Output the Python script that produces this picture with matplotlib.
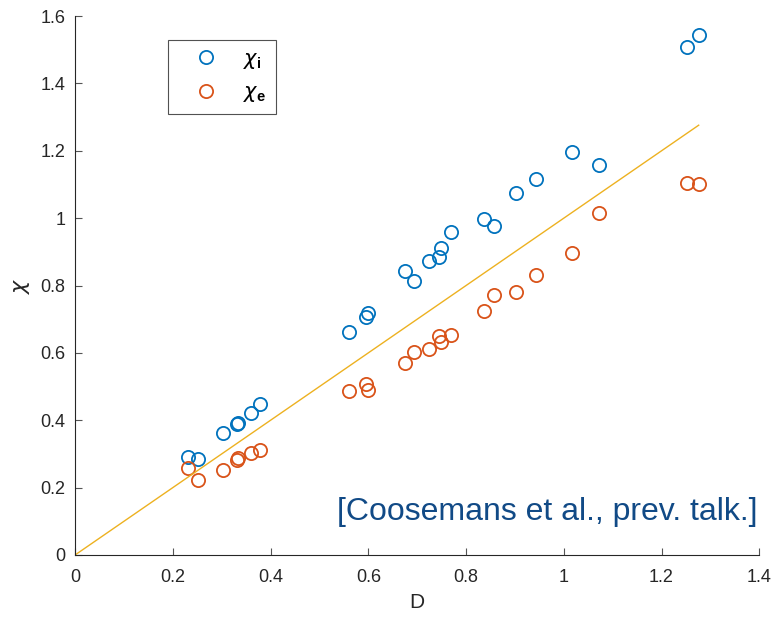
import matplotlib
matplotlib.use("Agg")
import matplotlib.pyplot as plt
import numpy as np

# D values and measured susceptibilities
D = [0.231, 0.252, 0.303, 0.332, 0.334, 0.360, 0.379,
     0.561, 0.596, 0.600, 0.675, 0.694, 0.724, 0.744, 0.748, 0.769,
     0.837, 0.858, 0.902, 0.944, 1.017, 1.073, 1.253, 1.276]
chi_i = [0.291, 0.285, 0.362, 0.390, 0.392, 0.421, 0.448,
         0.661, 0.706, 0.717, 0.844, 0.814, 0.873, 0.884, 0.912, 0.959,
         0.998, 0.977, 1.074, 1.116, 1.197, 1.158, 1.509, 1.543]
chi_e = [0.258, 0.223, 0.252, 0.282, 0.287, 0.303, 0.312,
         0.487, 0.508, 0.490, 0.569, 0.603, 0.611, 0.651, 0.633, 0.652,
         0.725, 0.773, 0.782, 0.831, 0.898, 1.014, 1.105, 1.101]

plt.rcParams['font.family'] = ['Liberation Sans', 'DejaVu Sans']
plt.rcParams['mathtext.fontset'] = 'custom'
plt.rcParams['mathtext.rm'] = 'Liberation Sans'
plt.rcParams['mathtext.bf'] = 'Liberation Sans:bold'

fig = plt.figure(figsize=(7.74, 6.18), dpi=100)
ax = fig.add_axes([0.097, 0.102, 0.884, 0.872])

ax.plot(D, chi_i, 'o', mfc='none', mec='#0072BD', ms=9.5, mew=1.3, label=r'$\chi_{\mathbf{i}}$')
ax.plot(D, chi_e, 'o', mfc='none', mec='#D95319', ms=9.5, mew=1.3, label=r'$\chi_{\mathbf{e}}$')
ax.plot([0, max(D)], [0, max(D)], color='#EDB120', lw=1.0)

ax.set_xlim(0, 1.4)
ax.set_ylim(0, 1.6)
ax.set_xticks(np.arange(0, 1.41, 0.2))
ax.set_xticklabels(['0', '0.2', '0.4', '0.6', '0.8', '1', '1.2', '1.4'])
ax.set_yticks(np.arange(0, 1.61, 0.2))
ax.set_yticklabels(['0', '0.2', '0.4', '0.6', '0.8', '1', '1.2', '1.4', '1.6'])
ax.tick_params(direction='in', length=5, width=0.8, color='#555555',
               labelcolor='#262626', labelsize=13)
ax.tick_params(axis='x', pad=10)
ax.tick_params(axis='y', pad=7)
for s in ['top', 'right']:
    ax.spines[s].set_visible(False)
for s in ['left', 'bottom']:
    ax.spines[s].set_color('#262626')
    ax.spines[s].set_linewidth(0.8)

ax.set_xlabel('D', fontsize=15, color='#262626', labelpad=5)
ax.set_ylabel(r'$\chi$', fontsize=16, color='#262626', rotation=90, labelpad=6)

leg = ax.legend(loc='upper left', bbox_to_anchor=(0.136, 0.955), borderaxespad=0,
                fontsize=15, frameon=True, fancybox=False, edgecolor='#262626',
                handlelength=2.75, handletextpad=0.4, borderpad=0.45,
                labelspacing=0.6)
leg.get_frame().set_linewidth(0.8)

ax.text(0.997, 0.08, '[Coosemans et al., prev. talk.]', transform=ax.transAxes,
        ha='right', va='center', fontsize=23, color='#114A86')

fig.savefig('out.png', dpi=100)
